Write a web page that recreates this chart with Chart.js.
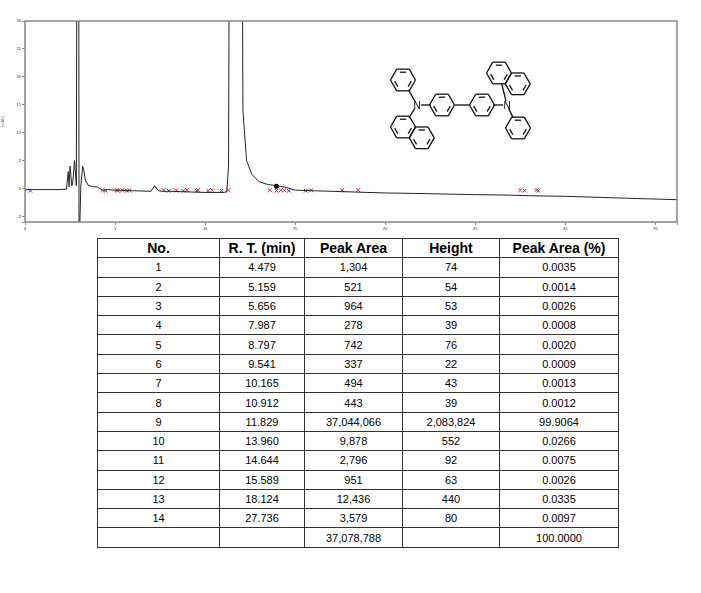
<!DOCTYPE html>
<html><head><meta charset="utf-8">
<script src="https://cdn.jsdelivr.net/npm/chart.js@4"></script>
<style>
body{margin:0;background:#fff;font-family:Arial,"Liberation Sans",sans-serif}
#wrap{position:absolute;left:0;top:0;width:701px;height:235px}
#mol{position:absolute;left:380px;top:55px}
table{position:absolute;left:97px;top:238px;border-collapse:collapse}
td,th{border:1px solid #333;height:18.3px;padding:0;text-align:center;font-size:11px}
th{font-size:14px}
</style></head><body>
<div id="wrap"><canvas id="c"></canvas></div>
<svg id="mol" width="180" height="110"></svg>
<table id="t"></table>
<script>
// trace (time min, mAU)
var traceT = [0,1,2,2.3,2.4,2.45,2.5,2.6,2.65,2.75,2.85,2.92,2.97,3.0,3.03,3.1,3.2,3.25,3.35,3.5,3.8,4.0,4.3,4.6,5,6,7,7.2,7.4,7.6,8,9,10,11,11.2,11.3,11.4,11.8,12.0,12.1,12.3,12.6,13,13.5,14,14.5,15,16,17,18,19,20,22,25,27,28,30,32,34,36.2];
var traceY = [-0.2,-0.2,-0.2,-0.1,3,0.3,4,0.5,1,5,0.5,100,100,-12,-12,0.5,4,3.5,1.5,0.6,0.3,0.3,-0.3,-0.2,-0.3,-0.4,-0.5,0.5,-0.4,-0.5,-0.5,-0.6,-0.7,-0.7,-0.6,4,100,100,100,14,5,2.5,1.2,0.7,0.5,0.2,-0.3,-0.4,-0.5,-0.6,-0.7,-0.8,-0.9,-1.1,-1.2,-1.3,-1.4,-1.6,-1.8,-2];
var redX = [4.3,5.1,5.4,5.8,7.7,8.4,9.0,9.6,10.4,11.3,13.6,14.2,14.4,15.9,17.6,18.5,27.5,28.4];
var blueX = [0.3,4.479,5.159,5.656,7.987,8.797,9.541,10.165,10.912,13.96,14.644,15.589,27.736,28.5];
var markT = 13.96, markY = 0.4;

var cols = ['No.','R. T. (min)','Peak Area','Height','Peak Area (%)'];
var rt = ['4.479','5.159','5.656','7.987','8.797','9.541','10.165','10.912','11.829','13.960','14.644','15.589','18.124','27.736'];
var area = ['1,304','521','964','278','742','337','494','443','37,044,066','9,878','2,796','951','12,436','3,579'];
var height = ['74','54','53','39','76','22','43','39','2,083,824','552','92','63','440','80'];
var pct = ['0.0035','0.0014','0.0026','0.0008','0.0020','0.0009','0.0013','0.0012','99.9064','0.0266','0.0075','0.0026','0.0335','0.0097'];
var totalArea = '37,078,788', totalPct = '100.0000';

var widths = [121,84,97,96,118];
var h = '<tr>' + cols.map((c,i) => '<th style="width:'+widths[i]+'px">'+c+'</th>').join('') + '</tr>';
rt.forEach((r,i) => { h += '<tr><td>'+(i+1)+'</td><td>'+r+'</td><td>'+area[i]+'</td><td>'+height[i]+'</td><td>'+pct[i]+'</td></tr>'; });
h += '<tr><td></td><td></td><td>'+totalArea+'</td><td></td><td>'+totalPct+'</td></tr>';
document.getElementById('t').innerHTML = h;

var boxPlugin = {
    id: 'box',
    afterDraw: function (chart) {
        var a = chart.chartArea, ctx = chart.ctx;
        ctx.save();
        ctx.strokeStyle = '#888';
        ctx.lineWidth = 1.5;
        ctx.strokeRect(a.left, a.top, a.right - a.left, a.bottom - a.top);
        ctx.restore();
    }
};

new Chart(document.getElementById('c'), {
    type: 'line',
    data: {
        datasets: [{
            data: traceT.map((t,i) => ({x: t, y: traceY[i]})),
            borderColor: '#222', borderWidth: 1, pointRadius: 0, tension: 0
        }, {
            type: 'scatter',
            data: redX.map(t => ({x: t, y: -0.3})),
            pointStyle: 'crossRot', borderColor: '#e03030', pointRadius: 3, borderWidth: 1
        }, {
            type: 'scatter',
            data: blueX.map(t => ({x: t, y: -0.4})),
            pointStyle: 'crossRot', borderColor: '#3040c0', pointRadius: 2.5, borderWidth: 1
        }, {
            type: 'scatter',
            data: [{x: markT, y: markY}],
            backgroundColor: '#000', pointRadius: 2.5
        }]
    },
    options: {
        responsive: true, maintainAspectRatio: false, animation: false,
        layout: {padding: {top: 21, right: 24}},
        plugins: {legend: {display: false}, tooltip: {enabled: false}},
        scales: {
            x: {
                type: 'linear', min: 0, max: 36.2,
                grid: {drawOnChartArea: false, tickLength: 3, color: '#888'},
                ticks: {stepSize: 5, font: {size: 4}, color: '#333', padding: 1, callback: v => v % 5 === 0 ? v : ''},
                afterFit: s => { s.height = 13; }
            },
            y: {
                min: -6, max: 30,
                grid: {drawOnChartArea: false, tickLength: 3, color: '#888'},
                ticks: {stepSize: 5, font: {size: 4}, color: '#333', padding: 1, callback: v => v % 5 === 0 ? v : ''},
                title: {display: true, text: '[mAU]', font: {size: 4}, padding: 0},
                afterFit: s => { s.width = 25; }
            }
        }
    },
    plugins: [boxPlugin]
});

// structure drawing (decorative)
var svg = document.getElementById('mol'), ox = 380, oy = 55, R = 12.5;
function ln(x1,y1,x2,y2){ svg.insertAdjacentHTML('beforeend','<line x1="'+(x1-ox)+'" y1="'+(y1-oy)+'" x2="'+(x2-ox)+'" y2="'+(y2-oy)+'" stroke="#111" stroke-width="1.3"/>'); }
function ring(cx,cy){
    var p = [];
    for (var k = 0; k < 6; k++) { var a = (60*k)*Math.PI/180; p.push([cx+R*Math.cos(a), cy+R*Math.sin(a)]); }
    for (k = 0; k < 6; k++) {
        var q = p[(k+1)%6]; ln(p[k][0],p[k][1],q[0],q[1]);
        if (k % 2 === 0) {
            var s = 0.72, m = 0.15;
            var a1 = [cx+(p[k][0]-cx)*s, cy+(p[k][1]-cy)*s], b1 = [cx+(q[0]-cx)*s, cy+(q[1]-cy)*s];
            ln(a1[0]+(b1[0]-a1[0])*m, a1[1]+(b1[1]-a1[1])*m, b1[0]-(b1[0]-a1[0])*m, b1[1]-(b1[1]-a1[1])*m);
        }
    }
}
function bond(nx,ny,cx,cy){
    var d = Math.hypot(cx-nx, cy-ny);
    ln(nx+(cx-nx)*4/d, ny+(cy-ny)*4/d, cx-(cx-nx)*R*0.9/d, cy-(cy-ny)*R*0.9/d);
}
function N(x,y){ svg.insertAdjacentHTML('beforeend','<text x="'+(x-ox)+'" y="'+(y-oy+3.5)+'" font-size="10" text-anchor="middle" font-family="Arial">N</text>'); }
var rings = [[403,80],[442,105],[482,105],[518,128],[403,127],[421.75,137.8],[499,73],[517.75,83.8]];
rings.forEach(r => ring(r[0], r[1]));
ln(454.5,105,469.5,105);
N(417,105); N(507,105);
bond(417,105,403,80); bond(417,105,442,105); bond(417,105,403,127);
bond(507,105,482,105); bond(507,105,518,128); bond(507,105,499,73);
</script>
</body></html>
